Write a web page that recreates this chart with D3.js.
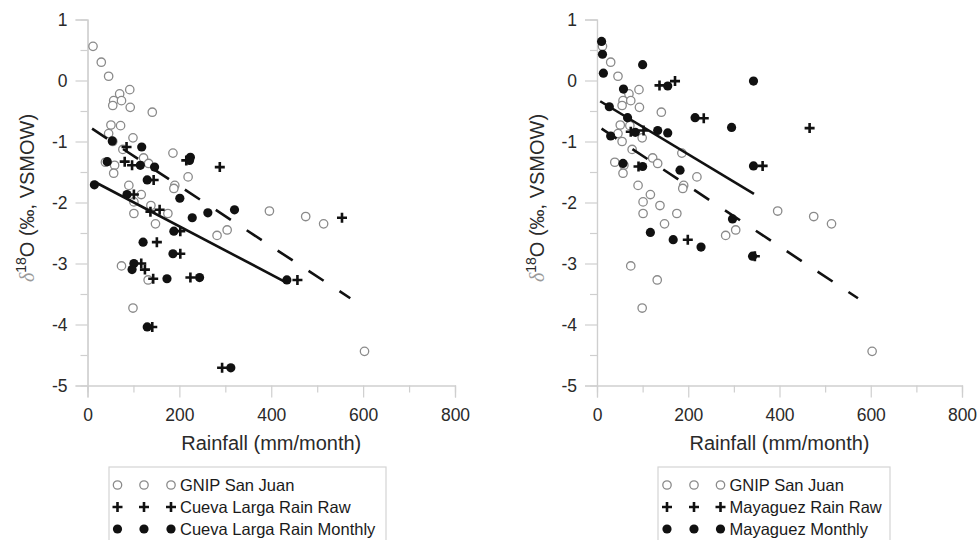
<!DOCTYPE html>
<html>
<head>
<meta charset="utf-8">
<script src="https://cdn.jsdelivr.net/npm/d3@7"></script>
<style>
  html, body { margin: 0; padding: 0; background: #fff; }
  svg text { font-family: "Liberation Sans", Arial, sans-serif; }
</style>
</head>
<body>
<svg id="chart" width="980" height="540"></svg>
<script>
// Axis ticks
const xTicks = [0, 200, 400, 600, 800];
const xMinorTicks = [100, 300, 500, 700];
const yTicks = [-5, -4, -3, -2, -1, 0, 1];
const yMinorTicks = [-4.5, -3.5, -2.5, -1.5, -0.5, 0.5];

// [rainfall mm/month, d18O permil]
const gnipSanJuan = [
  [12, 0.56], [30, 0.30], [46, 0.07], [92, -0.15], [70, -0.22], [57, -0.33], [74, -0.33],
  [55, -0.41], [93, -0.44], [141, -0.52], [51, -0.73], [72, -0.74], [46, -0.87], [55, -1.00],
  [99, -0.94], [77, -1.13], [122, -1.27], [186, -1.19], [39, -1.34], [133, -1.36], [59, -1.39],
  [57, -1.52], [219, -1.58], [190, -1.72], [188, -1.77], [90, -1.72], [117, -1.87], [101, -1.99],
  [101, -2.18], [138, -2.05], [175, -2.18], [148, -2.35], [282, -2.54], [304, -2.45], [74, -3.04],
  [132, -3.27], [99, -3.73], [396, -2.14], [475, -2.23], [514, -2.35], [603, -4.44]
];
const cuevaLargaRaw = [
  [85, -1.09], [81, -1.33], [97, -1.39], [144, -1.63], [101, -1.87], [137, -2.15], [157, -2.12],
  [215, -1.31], [288, -1.42], [202, -2.47], [151, -2.65], [202, -2.84], [117, -3.00], [125, -3.10],
  [143, -3.25], [224, -3.23], [141, -4.04], [554, -2.25], [457, -3.27], [293, -4.71]
];
const cuevaLargaMonthly = [
  [15, -1.71], [54, -0.99], [43, -1.33], [118, -1.09], [115, -1.39], [146, -1.42], [130, -1.63],
  [86, -1.87], [201, -1.93], [224, -1.26], [222, -1.31], [228, -2.25], [262, -2.17], [320, -2.12],
  [188, -2.47], [121, -2.65], [186, -2.84], [101, -3.00], [97, -3.10], [173, -3.25], [244, -3.23],
  [130, -4.04], [434, -3.27], [312, -4.71]
];
const mayaguezRaw = [
  [137, -0.08], [171, -0.01], [234, -0.62], [466, -0.78], [363, -1.40], [74, -0.84], [102, -0.82],
  [91, -1.41], [199, -2.61], [346, -2.88]
];
const mayaguezMonthly = [
  [10, 0.64], [12, 0.43], [14, 0.12], [100, 0.26], [58, -0.14], [155, -0.09], [343, -0.01],
  [27, -0.43], [67, -0.61], [215, -0.61], [295, -0.77], [30, -0.91], [84, -0.85], [133, -0.82],
  [155, -0.86], [57, -1.36], [100, -1.41], [182, -1.47], [343, -1.40], [297, -2.27], [117, -2.49],
  [167, -2.61], [228, -2.73], [341, -2.88]
];

// Least-squares fit lines, drawn between their end points
const fitSanJuan = [[10, -0.79], [572, -3.57]];
const fitCuevaLarga = [[15, -1.66], [430, -3.30]];
const fitMayaguez = [[7, -0.34], [344, -1.86]];

const legendCueva = ["GNIP San Juan", "Cueva Larga Rain Raw", "Cueva Larga Rain Monthly"];
const legendMayaguez = ["GNIP San Juan", "Mayaguez Rain Raw", "Mayaguez Monthly"];

const svg = d3.select("#chart");
const axisGrey = "#cfcfcf";
const textDark = "#2a2a2a";

function drawOpen(sel) {
  sel.append("circle").attr("r", 4.2).attr("fill", "#fff")
    .attr("stroke", "#8a8a8a").attr("stroke-width", 1.3);
}
function drawPlus(sel) {
  sel.append("path").attr("d", "M-5,0H5M0,-5V5")
    .attr("stroke", "#111").attr("stroke-width", 2.6).attr("fill", "none");
}
function drawDot(sel) {
  sel.append("circle").attr("r", 4.6).attr("fill", "#111");
}

function panel(cfg) {
  const x = d3.scaleLinear().domain([0, 800]).range([cfg.left, cfg.right]);
  const y = d3.scaleLinear().domain([-5, 1]).range([385.5, 19.5]);
  const g = svg.append("g");

  // y axis, major and half-unit minor ticks
  const ya = g.append("g").attr("transform", `translate(${cfg.left},0)`)
    .call(d3.axisLeft(y).tickValues(yTicks).tickSize(12).tickPadding(8).tickFormat(d => String(d)));
  const ym = g.append("g").attr("transform", `translate(${cfg.left},0)`)
    .call(d3.axisLeft(y).tickValues(yMinorTicks).tickSize(7).tickFormat(""));
  // x axis
  const xa = g.append("g").attr("transform", `translate(0,${y(-5)})`)
    .call(d3.axisBottom(x).tickValues(xTicks).tickSize(12).tickPadding(11).tickFormat(d => String(d)));
  const xm = g.append("g").attr("transform", `translate(0,${y(-5)})`)
    .call(d3.axisBottom(x).tickValues(xMinorTicks).tickSize(7).tickFormat(""));

  [ya, ym, xa, xm].forEach(a => {
    a.select(".domain").attr("stroke", axisGrey).attr("stroke-width", 1.2);
    a.selectAll(".tick line").attr("stroke", axisGrey).attr("stroke-width", 1.2);
    a.selectAll(".tick text").attr("fill", textDark).attr("font-size", 17.5)
      .attr("font-family", "'Liberation Sans', Arial, sans-serif");
  });

  // axis titles
  g.append("text").attr("x", (cfg.left + cfg.right) / 2).attr("y", 450)
    .attr("text-anchor", "middle").attr("font-size", 20).attr("fill", textDark)
    .text("Rainfall (mm/month)");

  const yt = g.append("text")
    .attr("transform", `translate(${cfg.left - 53.5},198) rotate(-90)`)
    .attr("text-anchor", "middle").attr("font-size", 20).attr("fill", textDark);
  yt.append("tspan").attr("fill", "#9a9a9a").attr("font-family", "'Liberation Serif', serif")
    .attr("font-style", "italic").text("δ");
  yt.append("tspan").attr("font-size", 14).attr("dy", -8).text("18");
  yt.append("tspan").attr("dy", 8).text("O (‰, VSMOW)");

  // points
  const pts = g.append("g");
  const layer = (data, draw) => {
    const s = pts.append("g").selectAll("g").data(data).join("g")
      .attr("transform", d => `translate(${x(d[0])},${y(d[1])})`);
    draw(s);
  };
  layer(gnipSanJuan, drawOpen);
  layer(cfg.raw, drawPlus);
  layer(cfg.monthly, drawDot);

  // fit lines
  const line = d3.line().x(d => x(d[0])).y(d => y(d[1]));
  g.append("path").datum(fitSanJuan).attr("d", line).attr("fill", "none")
    .attr("stroke", "#111").attr("stroke-width", 2.6).attr("stroke-dasharray", "18,19");
  g.append("path").datum(cfg.fit).attr("d", line).attr("fill", "none")
    .attr("stroke", "#111").attr("stroke-width", 2.6);

  // legend
  const L = cfg.legend;
  const lg = g.append("g");
  lg.append("rect").attr("x", L.x).attr("y", 467).attr("width", L.w).attr("height", 90)
    .attr("fill", "#fff").attr("stroke", "#d4d4d4").attr("stroke-width", 1.2);
  const drawers = [drawOpen, drawPlus, drawDot];
  cfg.labels.forEach((lab, i) => {
    const ry = 485 + i * 22;
    L.sx.forEach(sx => {
      drawers[i](lg.append("g").attr("transform", `translate(${sx},${ry})`));
    });
    lg.append("text").attr("x", L.tx).attr("y", ry).attr("dy", "0.36em")
      .attr("font-size", 16.5).attr("fill", "#1a1a1a").text(lab);
  });
}

panel({
  left: 87.5, right: 455,
  raw: cuevaLargaRaw, monthly: cuevaLargaMonthly, fit: fitCuevaLarga,
  labels: legendCueva,
  legend: { x: 109, w: 277, sx: [117.5, 144, 171], tx: 180 }
});
panel({
  left: 597, right: 962,
  raw: mayaguezRaw, monthly: mayaguezMonthly, fit: fitMayaguez,
  labels: legendMayaguez,
  legend: { x: 658, w: 232, sx: [667, 694, 720.5], tx: 729.5 }
});
</script>
</body>
</html>
